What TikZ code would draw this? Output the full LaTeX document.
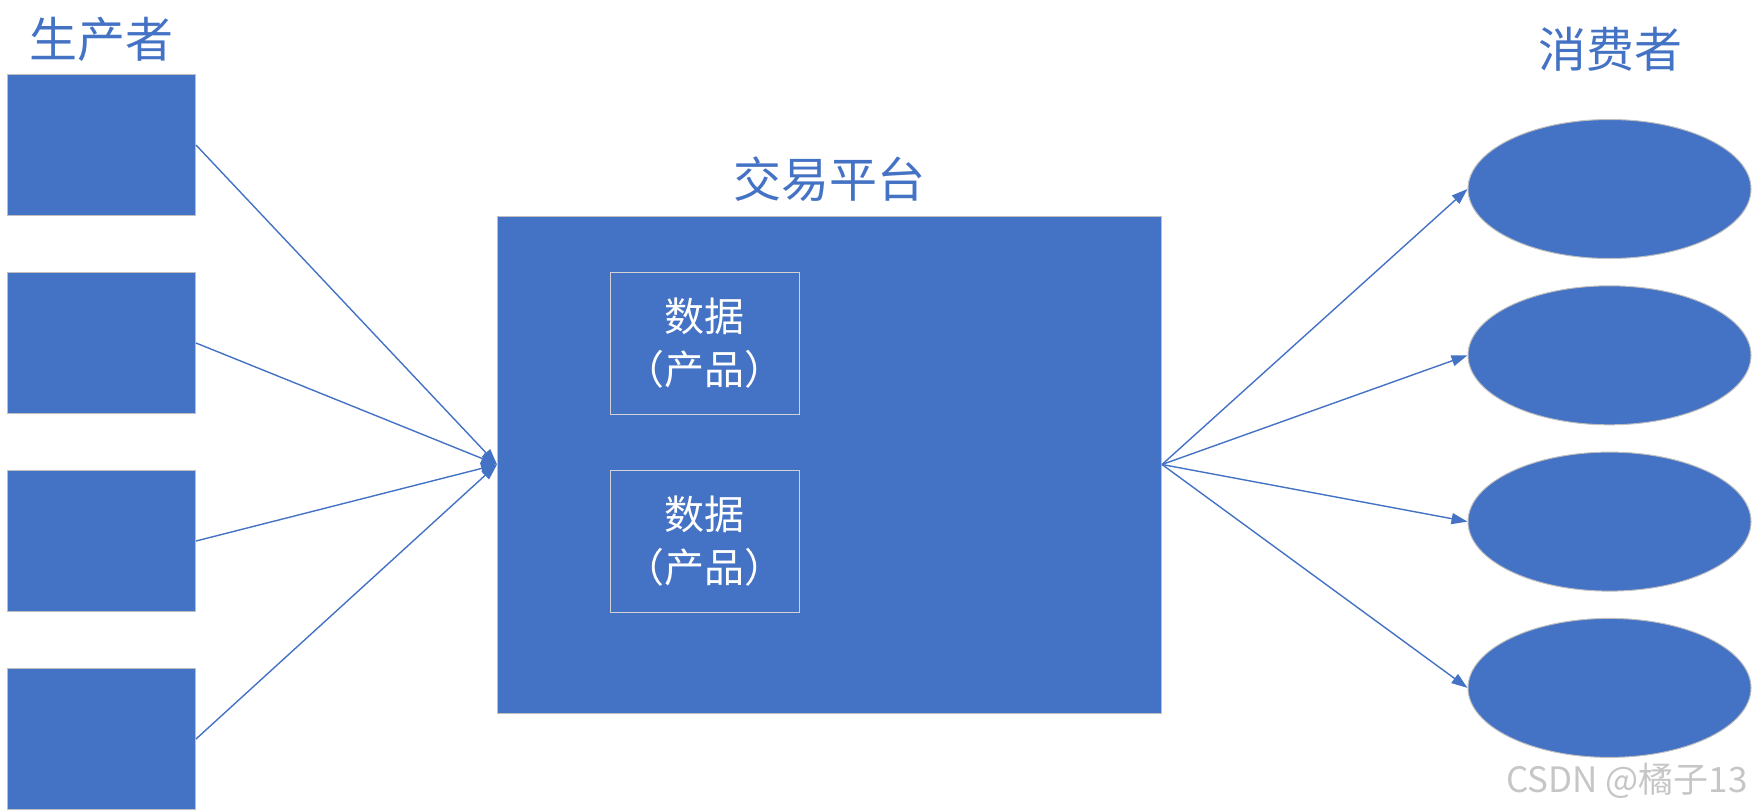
\documentclass[tikz,border=0pt]{standalone}
\usepackage{fontspec}
\newfontfamily\cjk{Noto Sans CJK SC}
\definecolor{BoxBlue}{HTML}{4472C4}
\definecolor{EdgeGray}{HTML}{BFBFBF}
\usetikzlibrary{arrows.meta, positioning, shapes.geometric}

\begin{document}
\begin{tikzpicture}[x=1pt, y=-1pt, >={Triangle[length=16pt, width=11pt]},
  block/.style={draw=EdgeGray, line width=1pt, fill=BoxBlue, inner sep=0pt},
  title/.style={text=BoxBlue, font=\cjk\fontsize{48}{58}\selectfont},
  link/.style={BoxBlue, line width=1.4pt}]
  \useasboundingbox (0,0) rectangle (1753,811);

  % Producers
  \foreach \i in {1,...,4} {
    \node[block, minimum width=188pt, minimum height=141pt]
      (prod\i) at (101.5,{145+198*(\i-1)}) {};
  }
  \node[title] (prodlab) at (101.5,39) {生产者};

  % Trading platform with its data boxes
  \node[block, minimum width=664pt, minimum height=497pt] (plat) at (829.5,464.5) {};
  \node[title] (platlab) at (829.5,179) {交易平台};
  \foreach \i in {1,2} {
    \node[draw=EdgeGray!70!white, line width=1pt, inner sep=0pt,
      minimum width=189pt, minimum height=142pt, text=white, align=center,
      font=\cjk\fontsize{40}{53}\selectfont]
      (data\i) at (704.5,{343+198*(\i-1)}) {数据\\（产品）};
  }

  % Consumers
  \foreach \i in {1,...,4} {
    \node[block, ellipse, minimum width=283pt, minimum height=139pt]
      (cons\i) at (1609.5,{189+166.3*(\i-1)}) {};
  }
  \node[title] (conslab) at (1610,49) {消费者};

  % Connections
  \foreach \i in {1,...,4} {
    \draw[link, ->] (prod\i.east) -- (plat.west);
    \draw[link, ->] (plat.east) -- (cons\i.west);
  }

  % Watermark
  \node[text=gray!45, font=\cjk\fontsize{35}{42}\selectfont] (mark) at (1627,781) {CSDN @橘子13};
\end{tikzpicture}
\end{document}
